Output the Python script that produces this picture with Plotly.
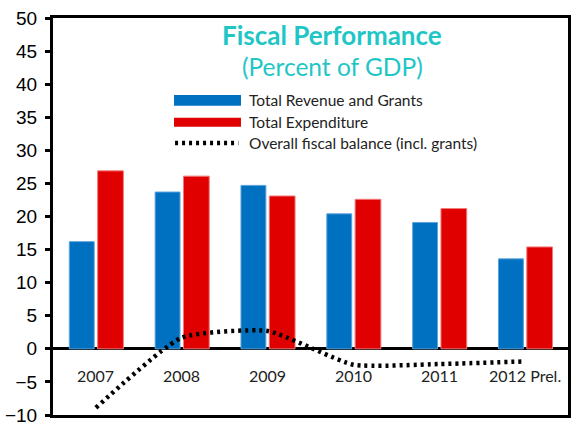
import plotly.graph_objects as go

# Fiscal data, percent of GDP
years = ["2007", "2008", "2009", "2010", "2011", "2012 Prel."]
revenue_grants = [16.2, 23.7, 24.7, 20.4, 19.1, 13.6]
expenditure = [26.9, 26.1, 23.1, 22.6, 21.2, 15.4]
fiscal_balance = [-8.9, 1.7, 2.7, -2.4, -2.3, -1.9]
y_ticks = [-10, -5, 0, 5, 10, 15, 20, 25, 30, 35, 40, 45, 50]

BLUE = "#0070C0"
RED = "#E00000"
TEAL = "#1EC6C6"
TEXT_FONT = "Lato"

fig = go.Figure()

fig.add_trace(go.Bar(
    x=years, y=revenue_grants, name="Total Revenue and Grants",
    marker=dict(color=BLUE, line=dict(color="#5AA3DC", width=1)),
    width=0.29, offset=-0.31,
))
fig.add_trace(go.Bar(
    x=years, y=expenditure, name="Total Expenditure",
    marker=dict(color=RED, line=dict(color="#F27A7A", width=1)),
    width=0.30, offset=0.02,
))
fig.add_trace(go.Scatter(
    x=years, y=fiscal_balance, name="Overall fiscal balance (incl. grants)",
    mode="lines",
    line=dict(color="black", width=4.5, dash="3px,4px", shape="spline", smoothing=0.5),
))

# Category labels sit just below the zero line, inside the plot
annotations = [
    dict(x=i, y=-4.1, xref="x", yref="y", text=yr, showarrow=False,
         xanchor="center", yanchor="middle",
         font=dict(family=TEXT_FONT, size=16, color="#222222"))
    for i, yr in enumerate(years)
]

# Title and subtitle
annotations += [
    dict(x=0.542, y=0.957, xref="paper", yref="paper", text="<b>Fiscal Performance</b>",
         showarrow=False, xanchor="center", yanchor="middle",
         font=dict(family=TEXT_FONT, size=26, color=TEAL)),
    dict(x=0.542, y=0.877, xref="paper", yref="paper", text="(Percent of GDP)",
         showarrow=False, xanchor="center", yanchor="middle",
         font=dict(family=TEXT_FONT, size=24.5, color=TEAL)),
]

# Legend drawn as swatches plus labels
legend_font = dict(family=TEXT_FONT, size=15.5, color="#222222")
legend_rows = [
    ("Total Revenue and Grants", 0.793),
    ("Total Expenditure", 0.738),
    ("Overall fiscal balance (incl. grants)", 0.685),
]
for label, ly in legend_rows:
    annotations.append(dict(x=0.377, y=ly, xref="paper", yref="paper", text=label,
                            showarrow=False, xanchor="left", yanchor="middle",
                            font=legend_font))

shapes = [
    dict(type="rect", xref="paper", yref="paper", x0=0.235, x1=0.365, y0=0.779, y1=0.806,
         fillcolor=BLUE, line=dict(width=0)),
    dict(type="rect", xref="paper", yref="paper", x0=0.235, x1=0.365, y0=0.726, y1=0.749,
         fillcolor=RED, line=dict(width=0)),
    dict(type="line", xref="paper", yref="paper", x0=0.237, x1=0.360, y0=0.685, y1=0.685,
         line=dict(color="black", width=4.5, dash="3px,4px")),
]

fig.update_layout(
    width=571, height=424,
    margin=dict(l=53, r=3, t=18, b=9),
    paper_bgcolor="white", plot_bgcolor="white",
    showlegend=False,
    barmode="group",
    annotations=annotations,
    shapes=shapes,
    xaxis=dict(
        type="category", range=[-0.5, 5.5], showticklabels=False, ticks="",
        showline=True, mirror=True, linecolor="black", linewidth=3,
        showgrid=False, zeroline=False, automargin=False,
    ),
    yaxis=dict(
        range=[-10, 50], tickvals=y_ticks, ticks="outside", ticklen=5, tickwidth=3,
        tickcolor="black", showline=True, mirror=True, linecolor="black", linewidth=3,
        showgrid=False, zeroline=True, zerolinecolor="black", zerolinewidth=3,
        ticklabeloverflow="allow", ticklabelstandoff=4, automargin=False,
        tickfont=dict(family="Liberation Sans", size=19, color="black"),
    ),
)

fig.write_html("out.html")
